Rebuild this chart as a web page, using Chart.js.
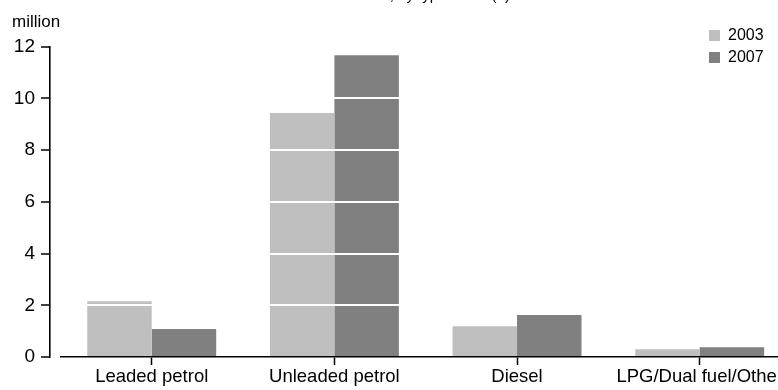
<!DOCTYPE html>
<html>
<head>
<meta charset="utf-8">
<title>Vehicles by type of fuel</title>
<script src="https://cdn.jsdelivr.net/npm/chart.js@4.4.1/dist/chart.umd.min.js"></script>
<style>
  html, body { margin: 0; padding: 0; background: #ffffff; overflow: hidden; }
  #wrap { width: 800px; height: 390px; }
</style>
</head>
<body>
<div id="wrap"><canvas id="chart" width="800" height="390"></canvas></div>
<script>
// Fuel categories and vehicle counts (millions)
const categories = ['Leaded petrol', 'Unleaded petrol', 'Diesel', 'LPG/Dual fuel/Other'];
const values2003 = [2.16, 9.43, 1.19, 0.30];
const values2007 = [1.08, 11.67, 1.62, 0.38];
const seriesNames = ['2003', '2007'];
const yMin = 0;
const yMax = 12;
const yStep = 2;

const FONT = 'Liberation Sans, Arial, sans-serif';

// Places the two-row legend in the upper right corner
const legendCorner = {
  id: 'legendCorner',
  afterLayout(chart) {
    const lg = chart.legend;
    if (!lg) return;
    lg.left = 703;
    lg.top = 21.5;
  }
};

new Chart(document.getElementById('chart'), {
  type: 'bar',
  data: {
    labels: categories,
    datasets: [
      { label: seriesNames[0], data: values2003, backgroundColor: '#bfbfbf', borderWidth: 0,
        categoryPercentage: 0.706, barPercentage: 1.0 },
      { label: seriesNames[1], data: values2007, backgroundColor: '#808080', borderWidth: 0,
        categoryPercentage: 0.706, barPercentage: 1.0 }
    ]
  },
  options: {
    responsive: false,
    animation: false,
    devicePixelRatio: 1,
    layout: { padding: { top: -13, left: 12, right: 9, bottom: 0 } },
    plugins: {
      title: {
        display: true,
        text: 'Motor vehicles, by type of fuel(a)',
        color: '#000000',
        font: { family: FONT, size: 15, weight: 'normal' },
        padding: { top: 0, bottom: 0 }
      },
      subtitle: {
        display: true,
        text: 'million',
        align: 'start',
        color: '#000000',
        font: { family: FONT, size: 17, weight: 'normal' },
        padding: { top: 7.5, bottom: 13.7 }
      },
      legend: {
        position: 'chartArea',
        align: 'start',
        labels: {
          boxWidth: 11,
          boxHeight: 11,
          padding: 6,
          color: '#000000',
          font: { family: FONT, size: 16 }
        }
      },
      tooltip: { enabled: false }
    },
    scales: {
      x: {
        offset: true,
        grid: {
          display: true,
          offset: false,
          drawOnChartArea: false,
          drawTicks: true,
          tickLength: 8,
          tickColor: '#000000',
          tickWidth: 1.5,
          z: 1
        },
        border: { display: true, color: '#000000', width: 1.6, z: 1 },
        ticks: {
          color: '#000000',
          font: { family: FONT, size: 18.5 },
          padding: 1,
          maxRotation: 0,
          autoSkip: false
        },
        afterFit(scale) { scale.height = 33; }
      },
      y: {
        weight: 1,
        position: 'left',
        min: yMin,
        max: yMax,
        grid: {
          color: (ctx) => (ctx.tick && ctx.tick.value === 0 ? 'rgba(0,0,0,0)' : '#ffffff'),
          lineWidth: 2,
          drawTicks: true,
          tickLength: 9,
          tickColor: '#000000',
          tickWidth: 1.5,
          z: 1
        },
        border: { display: true, color: '#000000', width: 1.6, z: 1 },
        ticks: {
          stepSize: yStep,
          color: '#000000',
          font: { family: FONT, size: 19 },
          padding: 6
        },
        afterFit(scale) { scale.width = 38; }
      },
      gap: {
        type: 'linear',
        position: 'left',
        weight: 0,
        display: true,
        grid: { display: false },
        border: { display: false },
        ticks: { display: false },
        afterFit(scale) { scale.width = 10.4; }
      }
    }
  },
  plugins: [legendCorner]
});
</script>
</body>
</html>
